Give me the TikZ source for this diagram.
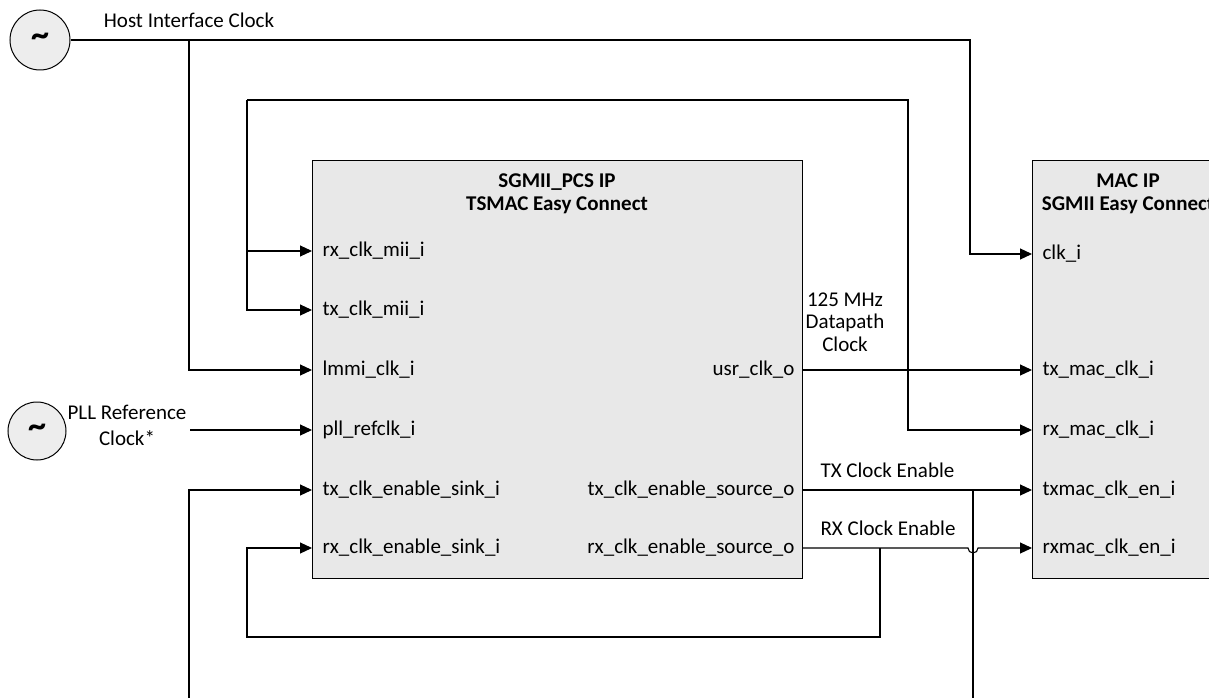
\documentclass[tikz,border=0pt]{standalone}
\usepackage{fontspec}
\setmainfont{Carlito}
\usetikzlibrary{arrows.meta}
\definecolor{boxgray}{HTML}{E8E8E8}
\definecolor{srcgray}{HTML}{EDEDED}
\begin{document}
\begin{tikzpicture}[x=1pt,y=-1pt,
  line width=1.1pt,
  >={Triangle[length=12pt,width=11pt]},
  every node/.style={font=\fontsize{21}{25}\selectfont},
  block/.style={draw, line width=1.2pt, fill=boxgray, anchor=north west, inner sep=0pt},
  clocksrc/.style={draw, circle, fill=srcgray, line width=1pt, inner sep=0pt,
                   font=\fontsize{36}{36}\selectfont\bfseries},
  title/.style={align=center, font=\fontsize{21}{23}\selectfont\bfseries},
  pinin/.style={anchor=west, inner sep=0pt},
  pinout/.style={anchor=east, inner sep=0pt},
  lbl/.style={align=center, inner sep=0pt}]
\useasboundingbox (0,0) rectangle (1209,698);
\clip (0,0) rectangle (1209,698);

% blocks
\node[block, minimum width=490pt, minimum height=418pt] (pcs) at (312,160) {};
\node[block, minimum width=200pt, minimum height=418pt] (mac) at (1032,160) {};
\node[title] (pcstitle) at (557,194) {SGMII\_PCS IP\\TSMAC Easy Connect};
\node[title] (mactitle) at (1128,194) {MAC IP\\SGMII Easy Connect};

% clock sources
\node[clocksrc, minimum size=60pt] (host) at (40,40) {\raisebox{-0.3ex}{\char`\~}};
\node[clocksrc, minimum size=58pt] (pll) at (37,431) {\raisebox{-0.3ex}{\char`\~}};

% SGMII_PCS ports
\coordinate (p-rxmii) at (312,251);
\coordinate (p-txmii) at (312,310);
\coordinate (p-lmmi) at (312,370);
\coordinate (p-pll) at (312,430);
\coordinate (p-txsink) at (312,490);
\coordinate (p-rxsink) at (312,548);
\coordinate (p-usr) at (802,370);
\coordinate (p-txsrc) at (802,490);
\coordinate (p-rxsrc) at (802,548);
\node[pinin] (l-rxmii) at (322,251) {rx\_clk\_mii\_i};
\node[pinin] (l-txmii) at (322,310) {tx\_clk\_mii\_i};
\node[pinin] (l-lmmi) at (322,370) {lmmi\_clk\_i};
\node[pinin] (l-pll) at (322,430) {pll\_refclk\_i};
\node[pinin] (l-txsink) at (322,490) {tx\_clk\_enable\_sink\_i};
\node[pinin] (l-rxsink) at (322,548) {rx\_clk\_enable\_sink\_i};
\node[pinout] (l-usr) at (795,370) {usr\_clk\_o};
\node[pinout] (l-txsrc) at (795,490) {tx\_clk\_enable\_source\_o};
\node[pinout] (l-rxsrc) at (795,548) {rx\_clk\_enable\_source\_o};

% MAC ports
\coordinate (m-clk) at (1032,254);
\coordinate (m-tx) at (1032,370);
\coordinate (m-rx) at (1032,430);
\coordinate (m-txen) at (1032,490);
\coordinate (m-rxen) at (1032,548);
\node[pinin] (l-mclk) at (1042,254) {clk\_i};
\node[pinin] (l-mtx) at (1042,370) {tx\_mac\_clk\_i};
\node[pinin] (l-mrx) at (1042,430) {rx\_mac\_clk\_i};
\node[pinin] (l-mtxen) at (1042,490) {txmac\_clk\_en\_i};
\node[pinin] (l-mrxen) at (1042,548) {rxmac\_clk\_en\_i};

% routing points
\coordinate (hostsplit) at (189,40);
\coordinate (hostturn) at (970,40);
\coordinate (loopL) at (247,100);
\coordinate (loopR) at (908,100);
\coordinate (loopmid) at (247,251);
\coordinate (pllstub) at (190,430);
\coordinate (txtap) at (973,490);
\coordinate (txdown) at (973,700);
\coordinate (txup) at (189,700);
\coordinate (rxtap) at (880,548);
\coordinate (rxloopR) at (880,637);
\coordinate (rxloopL) at (247,637);

% host interface clock
\draw[->] (host.east) -- (hostturn) |- (m-clk);
\draw[->] (hostsplit) |- (p-lmmi);
\node[lbl] (hostlbl) at (189,20) {Host Interface Clock};

% datapath clock loop
\draw[->] (loopL) -- (loopR) |- (m-rx);
\draw[->] (loopL) |- (p-txmii);
\draw[->] (loopmid) -- (p-rxmii);
\draw[->] (p-usr) -- (m-tx);
\node[lbl, font=\fontsize{21}{22.5}\selectfont] (dplbl) at (845,322) {125 MHz\\Datapath\\Clock};

% PLL reference clock
\draw[->] (pllstub) -- (p-pll);
\node[lbl, font=\fontsize{21}{26}\selectfont] (plllbl) at (127,425) {PLL Reference\\Clock*};

% clock enables
\draw[->] (p-txsrc) -- (m-txen);
\draw (txtap) -- (txdown);
\draw[->] (txup) |- (p-txsink);
\node[lbl, anchor=west] (txlbl) at (820,470) {TX Clock Enable};

\draw[->] (p-rxsrc) -- (968,548) arc[start angle=180, end angle=360, radius=5pt] -- (m-rxen);
\draw[->] (rxtap) -- (rxloopR) -- (rxloopL) |- (p-rxsink);
\node[lbl, anchor=west] (rxlbl) at (820,528) {RX Clock Enable};
\end{tikzpicture}
\end{document}
